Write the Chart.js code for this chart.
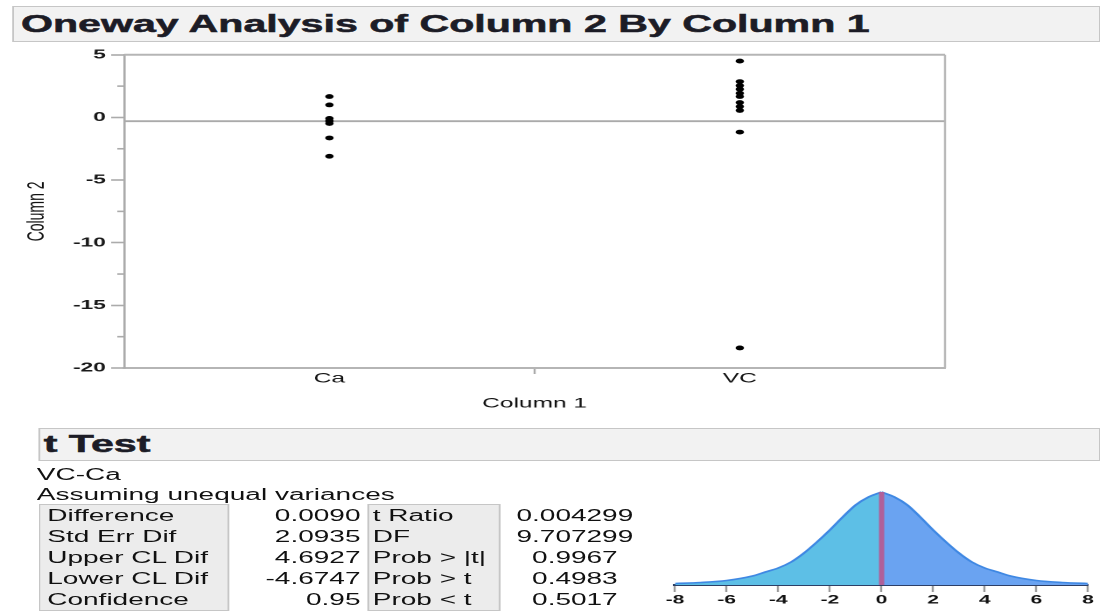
<!DOCTYPE html>
<html>
<head>
<meta charset="utf-8">
<script src="https://cdn.jsdelivr.net/npm/chart.js@4.4.1/dist/chart.umd.min.js"></script>
<style>
html, body { margin:0; padding:0; background:#fff; overflow:hidden; }
body { width:1100px; height:612px; }
/* the reference is stretched sideways, so the whole page is laid out narrow and scaled */
#page { position:relative; width:629px; height:612px; transform:scaleX(1.75); transform-origin:0 0;
        font-family:'Liberation Sans', Arial, Helvetica, sans-serif; color:#111; }
.hdr { position:absolute; box-sizing:border-box; background:#f2f2f2; border:1px solid #c6c6c6;
       font-weight:bold; font-size:23.5px; color:#1c1c26; white-space:nowrap; -webkit-text-stroke:0.5px #1c1c26; }
.txt { position:absolute; font-size:16px; line-height:21px; white-space:nowrap; }
.box { position:absolute; box-sizing:border-box; background:#ececec; border:1px solid #c6c6c6; }
.col { position:absolute; font-size:16px; line-height:21px; white-space:nowrap; }
canvas { position:absolute; }
</style>
</head>
<body>
<div id="page">
  <div class="hdr" style="left:7px;top:6px;width:622px;height:36px;line-height:34px;padding-left:4px;">Oneway Analysis of Column 2 By Column 1</div>
  <canvas id="oneway" width="560" height="372" style="left:0;top:44px;"></canvas>

  <div class="hdr" style="left:22px;top:428px;width:607px;height:33px;line-height:31px;padding-left:2px;">t Test</div>
  <div class="txt" style="left:21px;top:464px;">VC-Ca</div>
  <div class="txt" style="left:21px;top:484px;">Assuming unequal variances</div>

  <div class="box" style="left:22px;top:504px;width:109px;height:107px;"></div>
  <div class="col" id="lab1" style="left:27px;top:505px;"></div>
  <div class="col" id="val1" style="left:131px;top:505px;width:75px;text-align:right;"></div>
  <div class="box" style="left:210px;top:504px;width:76px;height:107px;"></div>
  <div class="col" id="lab2" style="left:213px;top:505px;"></div>
  <div class="col" id="val2" style="left:290px;top:505px;width:77px;text-align:center;"></div>

  <canvas id="tdist" width="253" height="134" style="left:375px;top:478px;"></canvas>
</div>
<script>
// scatter data
const categories = ["Ca", "VC"];
const caValues = [1.67, 1.0, -0.08, -0.28, -0.48, -1.64, -3.1];
const vcValues = [4.5, 2.86, 2.54, 2.25, 1.93, 1.67, 1.19, 0.87, 0.56, -1.17, -18.4];
const grandMean = -0.3;
const yMajor = [5, 0, -5, -10, -15, -20];
const yMinor = [2.5, -2.5, -7.5, -12.5, -17.5];

// t test report
const statLabels1 = ["Difference", "Std Err Dif", "Upper CL Dif", "Lower CL Dif", "Confidence"];
const statValues1 = ["0.0090", "2.0935", "4.6927", "-4.6747", "0.95"];
const statLabels2 = ["t Ratio", "DF", "Prob > |t|", "Prob > t", "Prob < t"];
const statValues2 = ["0.004299", "9.707299", "0.9967", "0.4983", "0.5017"];

// t distribution picture (heights)
const tGrid = [-8, -7, -6, -5, -4.5, -4, -3.5, -3, -2.5, -2, -1.5, -1, -0.5, 0, 0.5, 1, 1.5, 2, 2.5, 3, 3.5, 4, 4.5, 5, 6, 7, 8];
const tDensity = [0.003, 0.005, 0.009, 0.018, 0.026, 0.034, 0.046, 0.064, 0.086, 0.110, 0.136, 0.160, 0.176, 0.186,
                  0.176, 0.160, 0.136, 0.110, 0.086, 0.064, 0.046, 0.034, 0.026, 0.018, 0.009, 0.005, 0.003];
const tObserved = 0.004299;
const tTicks = [-8, -6, -4, -2, 0, 2, 4, 6, 8];

document.getElementById("lab1").innerHTML = statLabels1.join("<br>");
document.getElementById("val1").innerHTML = statValues1.join("<br>");
document.getElementById("lab2").innerHTML = statLabels2.map(s => s.replace(/</g, "&lt;").replace(/>/g, "&gt;")).join("<br>");
document.getElementById("val2").innerHTML = statValues2.join("<br>");

Chart.defaults.font.family = "'Liberation Sans', Arial, Helvetica, sans-serif";
Chart.defaults.color = "#111";

// short minor ticks + top/right frame of the plot
const frameAndMinor = {
    id: "frameAndMinor",
    afterDraw(chart) {
        const ctx = chart.ctx;
        const a = chart.chartArea;
        const y = chart.scales.y;
        ctx.save();
        ctx.strokeStyle = "#ababab";
        ctx.lineWidth = 1.6;
        yMinor.forEach(v => {
            const py = y.getPixelForValue(v);
            ctx.beginPath();
            ctx.moveTo(a.left - 4, py);
            ctx.lineTo(a.left, py);
            ctx.stroke();
        });
        ctx.strokeStyle = "#b5b5b5";
        ctx.lineWidth = 2;
        ctx.beginPath();
        ctx.moveTo(a.left, a.top);
        ctx.lineTo(a.right, a.top);
        ctx.stroke();
        ctx.lineWidth = 1.2;
        ctx.beginPath();
        ctx.moveTo(a.right, a.top);
        ctx.lineTo(a.right, a.bottom);
        ctx.stroke();
        ctx.restore();
    },
};

const pointsFor = (vals, i) => vals.map(v => ({ x: i + 0.5, y: v }));

new Chart(document.getElementById("oneway"), {
    type: "scatter",
    data: {
        datasets: [
            { data: pointsFor(caValues, 0), backgroundColor: "#000", borderWidth: 0, pointRadius: 2.4 },
            { data: pointsFor(vcValues, 1), backgroundColor: "#000", borderWidth: 0, pointRadius: 2.4 },
            {
                type: "line",
                data: [{ x: 0, y: grandMean }, { x: categories.length, y: grandMean }],
                borderColor: "#aaaaaa",
                borderWidth: 1.8,
                pointRadius: 0,
            },
        ],
    },
    options: {
        responsive: false,
        animation: false,
        devicePixelRatio: 2,
        layout: { padding: { left: 0, top: 9, right: 20, bottom: 0 } },
        plugins: { legend: { display: false }, tooltip: { enabled: false } },
        scales: {
            x: {
                type: "linear",
                min: 0,
                max: categories.length,
                afterBuildTicks: s => {
                    s.ticks = [0, 0.5, 1, 1.5, 2].map(v => ({ value: v }));
                },
                afterFit: s => { s.height = 48; },
                ticks: {
                    autoSkip: false,
                    maxRotation: 0,
                    padding: -4,
                    font: { size: 14 },
                    color: "#111",
                    callback: v => {
                        const i = v - 0.5;
                        return Number.isInteger(i) && categories[i] ? categories[i] : "";
                    },
                },
                grid: {
                    drawOnChartArea: false,
                    tickLength: 6,
                    tickWidth: 1.2,
                    tickColor: c => (c.tick && c.tick.value === 1 ? "#aaaaaa" : "rgba(0,0,0,0)"),
                },
                border: { color: "#b5b5b5", width: 2 },
                title: { display: true, text: "Column 1", font: { size: 14 }, color: "#111", padding: { top: 4, bottom: 4 } },
            },
            y: {
                min: -20,
                max: 5,
                afterBuildTicks: s => {
                    s.ticks = yMajor.concat(yMinor).sort((a, b) => a - b).map(v => ({ value: v }));
                },
                afterFit: s => { s.width = 71; },
                ticks: {
                    autoSkip: false,
                    padding: 3,
                    font: { size: 13, weight: "bold" },
                    color: "#1a1a1a",
                    callback: v => (yMajor.includes(v) ? String(v) : ""),
                },
                grid: {
                    drawOnChartArea: false,
                    tickLength: 7.5,
                    tickWidth: 1.6,
                    tickColor: c => (c.tick && yMajor.includes(c.tick.value) ? "#ababab" : "rgba(0,0,0,0)"),
                },
                border: { color: "#ababab", width: 1.3 },
                title: { display: true, text: "Column 2", font: { size: 14 }, color: "#111", padding: { top: 12.5, bottom: 4 } },
            },
        },
    },
    plugins: [frameAndMinor],
});

const curve = tGrid.map((x, i) => ({ x, y: tDensity[i] }));
const peak = tDensity[tGrid.indexOf(0)];

new Chart(document.getElementById("tdist"), {
    type: "line",
    data: {
        datasets: [
            {
                data: [{ x: tObserved, y: 0 }, { x: tObserved, y: peak }],
                borderColor: "#b0609a",
                borderWidth: 3,
                pointRadius: 0,
                fill: false,
            },
            {
                data: curve.filter(p => p.x <= 0),
                borderColor: "#3f88e3",
                borderWidth: 1.6,
                backgroundColor: "#5dbfe6",
                fill: "origin",
                pointRadius: 0,
                cubicInterpolationMode: "monotone",
            },
            {
                data: curve.filter(p => p.x >= 0),
                borderColor: "#3f88e3",
                borderWidth: 1.6,
                backgroundColor: "#6aa3f1",
                fill: "origin",
                pointRadius: 0,
                cubicInterpolationMode: "monotone",
            },
        ],
    },
    options: {
        responsive: false,
        animation: false,
        devicePixelRatio: 2,
        layout: { padding: { left: 10.7, top: 12, right: 6.3, bottom: 0 } },
        plugins: { legend: { display: false }, tooltip: { enabled: false } },
        scales: {
            x: {
                type: "linear",
                min: -8,
                max: 8,
                afterBuildTicks: s => {
                    s.ticks = tTicks.map(v => ({ value: v }));
                },
                afterFit: s => { s.height = 27; },
                ticks: { autoSkip: false, maxRotation: 0, padding: 1, font: { size: 12, weight: "bold" }, color: "#111" },
                grid: { drawOnChartArea: false, tickLength: 7, tickWidth: 1.2, tickColor: "#9a9a9a" },
                border: { color: "#2d3f66", width: 2 },
            },
            y: { display: false, min: 0, max: 0.19 },
        },
    },
});
</script>
</body>
</html>
